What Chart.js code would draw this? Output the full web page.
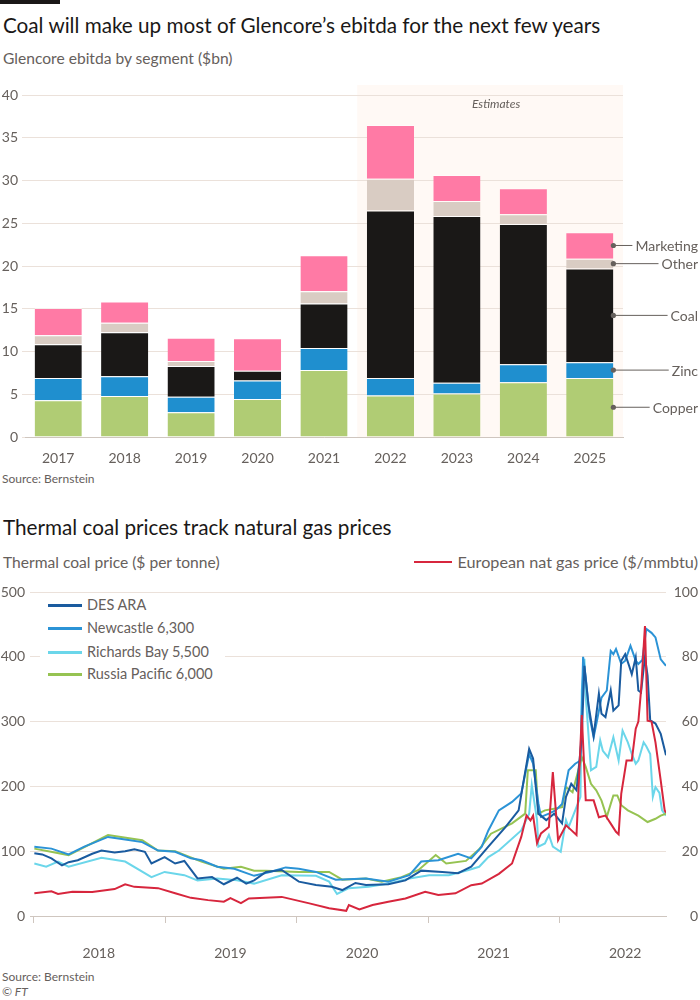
<!DOCTYPE html>
<html>
<head>
<meta charset="utf-8">
<script src="https://cdn.jsdelivr.net/npm/chart.js@4.4.1/dist/chart.umd.min.js"></script>
<style>
  body { margin: 0; background: #fff; font-family: Lato, "Noto Sans", sans-serif; }
  #page { position: relative; width: 700px; height: 1000px; overflow: hidden; background: #fff; }
  .abs { position: absolute; white-space: nowrap; }
  .title { font-size: 20.7px; line-height: 24px; color: #1a1817; left: 3px; }
  .sub { font-size: 15.6px; line-height: 18px; color: #66605c; }
  .src { font-size: 12px; line-height: 15px; color: #66605c; left: 2px; }
  #topbar { position: absolute; left: 0; top: 0; width: 60px; height: 4px; background: #1a1817; }
  #legend { position: absolute; left: 40px; top: 594px; width: 185px; height: 92px; background: #fff; }
  #gasKey { position: absolute; right: 2px; top: 553px; display: flex; align-items: center; }
  #gasKey .line { width: 38px; height: 2.5px; background: #d7263d; margin-right: 6px; }
  #gasKey .sub { font-size: 16.2px; }
  .row { position: absolute; left: 0; height: 20px; font-size: 14.5px; line-height: 20px; color: #66605c; }
  .sw { position: absolute; left: 8px; top: 9px; width: 34px; height: 2.5px; }
  .lab { position: absolute; left: 47px; top: 0; white-space: nowrap; }
  canvas { position: absolute; left: 0; }
</style>
</head>
<body>
<div id="page">
  <div id="topbar"></div>
  <div class="abs title" style="top:13px">Coal will make up most of Glencore’s ebitda for the next few years</div>
  <div class="abs sub" style="top:49px; left:3px">Glencore ebitda by segment ($bn)</div>
  <canvas id="ebitda" style="top:80px" width="700" height="390"></canvas>
  <div class="abs src" style="top:471px">Source: Bernstein</div>

  <div class="abs title" style="top:515px">Thermal coal prices track natural gas prices</div>
  <div class="abs sub" style="top:553px; left:3px">Thermal coal price ($ per tonne)</div>
  <div id="gasKey"><div class="line"></div><div class="sub" id="gasLabel"></div></div>
  <canvas id="prices" style="top:575px" width="700" height="385"></canvas>
  <div id="legend"></div>
  <div class="abs src" style="top:969px">Source: Bernstein</div>
  <div class="abs src" style="top:984px; font-style:italic">© FT</div>
</div>

<script>
// ---- top chart: Glencore ebitda by segment ($bn)
const years = ["2017", "2018", "2019", "2020", "2021", "2022", "2023", "2024", "2025"];
const copper = [4.3, 4.8, 2.9, 4.45, 7.85, 4.85, 5.1, 6.4, 6.9];
const zinc = [2.6, 2.3, 1.8, 2.15, 2.55, 2.05, 1.25, 2.1, 1.85];
const coal = [3.95, 5.15, 3.6, 1.15, 5.2, 19.6, 19.5, 16.4, 10.95];
const other = [1.05, 1.1, 0.6, 0, 1.45, 3.7, 1.75, 1.15, 1.15];
const marketing = [3.2, 2.5, 2.7, 3.8, 4.2, 6.3, 3.05, 3.05, 3.1];
const segmentNames = ["Copper", "Zinc", "Coal", "Other", "Marketing"];
const firstEstimate = "2022";

// ---- bottom chart: [decimal year, price]
const desAra = [[2018.01, 97], [2018.07, 95], [2018.14, 89], [2018.22, 78], [2018.27, 83], [2018.34, 86], [2018.45, 96], [2018.52, 101], [2018.62, 98], [2018.70, 100], [2018.77, 103], [2018.85, 99], [2018.90, 81], [2019.00, 91], [2019.08, 81], [2019.15, 85], [2019.25, 58], [2019.36, 60], [2019.45, 49], [2019.55, 59], [2019.62, 50], [2019.68, 55], [2019.77, 68], [2019.89, 71], [2020.02, 53], [2020.15, 48], [2020.27, 45], [2020.35, 40], [2020.45, 51], [2020.53, 48], [2020.70, 49], [2020.83, 55], [2020.95, 70], [2021.11, 68], [2021.23, 66], [2021.33, 76], [2021.46, 107], [2021.59, 137], [2021.69, 163], [2021.77, 258], [2021.80, 243], [2021.84, 158], [2021.90, 148], [2021.96, 158], [2022.02, 143], [2022.05, 184], [2022.09, 204], [2022.13, 194], [2022.17, 276], [2022.19, 386], [2022.22, 327], [2022.26, 278], [2022.30, 343], [2022.32, 312], [2022.35, 307], [2022.39, 348], [2022.41, 317], [2022.45, 325], [2022.47, 394], [2022.50, 404], [2022.53, 386], [2022.55, 373], [2022.58, 399], [2022.60, 348], [2022.62, 345], [2022.65, 400], [2022.67, 371], [2022.69, 302], [2022.73, 297], [2022.77, 281], [2022.81, 248]];
const newcastle = [[2018.01, 107], [2018.14, 104], [2018.27, 95], [2018.39, 107], [2018.57, 122], [2018.70, 118], [2018.83, 114], [2018.95, 101], [2019.08, 99], [2019.20, 89], [2019.28, 86], [2019.40, 76], [2019.53, 73], [2019.68, 62], [2019.80, 68], [2019.92, 75], [2020.02, 73], [2020.15, 68], [2020.30, 56], [2020.53, 58], [2020.70, 53], [2020.86, 63], [2020.95, 84], [2021.08, 86], [2021.23, 96], [2021.33, 89], [2021.41, 107], [2021.46, 132], [2021.54, 163], [2021.64, 176], [2021.71, 189], [2021.77, 250], [2021.80, 235], [2021.84, 174], [2021.86, 153], [2021.92, 158], [2021.97, 163], [2022.02, 173], [2022.07, 225], [2022.12, 235], [2022.16, 240], [2022.18, 400], [2022.20, 368], [2022.23, 307], [2022.26, 276], [2022.28, 296], [2022.32, 337], [2022.36, 348], [2022.39, 409], [2022.41, 404], [2022.43, 412], [2022.47, 389], [2022.50, 394], [2022.54, 417], [2022.58, 394], [2022.60, 389], [2022.63, 395], [2022.66, 443], [2022.70, 437], [2022.73, 430], [2022.77, 396], [2022.81, 386]];
const richardsBay = [[2018.01, 81], [2018.10, 76], [2018.19, 84], [2018.27, 76], [2018.52, 90], [2018.70, 84], [2018.90, 60], [2019.00, 68], [2019.15, 63], [2019.25, 55], [2019.40, 58], [2019.55, 55], [2019.68, 50], [2019.89, 63], [2020.15, 62], [2020.25, 53], [2020.31, 34], [2020.40, 43], [2020.55, 45], [2020.70, 50], [2020.86, 58], [2021.01, 63], [2021.16, 63], [2021.31, 71], [2021.39, 76], [2021.46, 91], [2021.54, 101], [2021.71, 132], [2021.77, 158], [2021.79, 202], [2021.83, 148], [2021.84, 107], [2021.89, 112], [2021.92, 125], [2021.95, 107], [2022.01, 99], [2022.05, 148], [2022.07, 137], [2022.12, 163], [2022.16, 184], [2022.17, 348], [2022.19, 397], [2022.20, 340], [2022.24, 225], [2022.28, 230], [2022.31, 271], [2022.33, 255], [2022.37, 245], [2022.41, 276], [2022.45, 240], [2022.48, 286], [2022.52, 268], [2022.55, 250], [2022.58, 235], [2022.60, 240], [2022.64, 268], [2022.66, 262], [2022.69, 250], [2022.71, 184], [2022.73, 199], [2022.76, 190], [2022.78, 163], [2022.81, 155]];
const russiaPacific = [[2018.01, 104], [2018.27, 94], [2018.57, 125], [2018.83, 117], [2018.95, 101], [2019.08, 100], [2019.28, 84], [2019.45, 73], [2019.58, 76], [2019.68, 70], [2019.77, 70], [2020.02, 68], [2020.25, 68], [2020.35, 56], [2020.53, 58], [2020.65, 53], [2020.80, 60], [2020.93, 71], [2021.06, 94], [2021.14, 81], [2021.29, 85], [2021.39, 103], [2021.48, 127], [2021.64, 143], [2021.74, 158], [2021.76, 225], [2021.82, 225], [2021.84, 158], [2021.89, 163], [2021.97, 166], [2022.02, 168], [2022.05, 199], [2022.10, 191], [2022.17, 245], [2022.20, 230], [2022.24, 204], [2022.28, 194], [2022.32, 178], [2022.36, 153], [2022.39, 173], [2022.41, 186], [2022.44, 186], [2022.47, 171], [2022.52, 163], [2022.60, 155], [2022.67, 145], [2022.73, 150], [2022.77, 155], [2022.81, 158]];
const gasPrice = [[2018.01, 7.0], [2018.14, 7.6], [2018.19, 6.8], [2018.30, 7.5], [2018.45, 7.4], [2018.62, 8.3], [2018.70, 9.8], [2018.77, 9.0], [2018.95, 8.6], [2019.08, 7.0], [2019.20, 5.6], [2019.33, 4.9], [2019.45, 4.4], [2019.50, 5.5], [2019.58, 4.0], [2019.64, 5.4], [2019.89, 5.9], [2020.10, 3.9], [2020.25, 2.4], [2020.38, 1.6], [2020.40, 3.4], [2020.48, 2.0], [2020.58, 3.4], [2020.70, 4.4], [2020.83, 5.4], [2020.98, 7.5], [2021.08, 6.5], [2021.21, 7.0], [2021.33, 9.5], [2021.41, 10], [2021.54, 13], [2021.64, 16.2], [2021.71, 24.4], [2021.75, 31], [2021.78, 29.5], [2021.80, 31], [2021.83, 22.5], [2021.86, 25.5], [2021.92, 27.5], [2021.95, 44.4], [2021.99, 23.4], [2022.05, 28], [2022.09, 26.5], [2022.13, 25], [2022.17, 62], [2022.20, 35.7], [2022.26, 35.7], [2022.30, 30.5], [2022.35, 31], [2022.39, 28.5], [2022.43, 26], [2022.45, 25.2], [2022.47, 37.8], [2022.51, 48], [2022.55, 48], [2022.58, 57.8], [2022.60, 60], [2022.62, 69.5], [2022.65, 89.5], [2022.67, 60.3], [2022.70, 60], [2022.73, 53.6], [2022.77, 41.8], [2022.80, 32.6], [2022.81, 31.9]];
const coalNames = ["DES ARA", "Newcastle 6,300", "Richards Bay 5,500", "Russia Pacific 6,000"];
const gasName = "European nat gas price ($/mmbtu)";
const yearLabels = [2018, 2019, 2020, 2021, 2022];

const grey = "#66605c";
const gridColour = "#ebe1da";
const axisColour = "#cfc6bf";

Chart.defaults.font.family = "Lato, 'Noto Sans', sans-serif";
Chart.defaults.font.size = 14;
Chart.defaults.color = grey;
Chart.defaults.animation = false;

// shaded "Estimates" region behind the forecast bars
const estimatesShade = {
    id: "estimatesShade",
    beforeDraw(chart) {
        let x = chart.scales.x;
        let area = chart.chartArea;
        let i = chart.data.labels.indexOf(firstEstimate);
        let left = (x.getPixelForValue(i - 1) + x.getPixelForValue(i)) / 2;
        let ctx = chart.ctx;
        ctx.save();
        ctx.fillStyle = "#fff9f5";
        ctx.fillRect(left, area.top - 10, area.right - left, area.bottom - area.top + 10);
        ctx.fillStyle = grey;
        ctx.font = "italic 12px Lato, sans-serif";
        ctx.textAlign = "center";
        ctx.textBaseline = "middle";
        ctx.fillText("Estimates", (left + area.right) / 2 + 6, area.top + 9);
        ctx.restore();
    }
};

// labels for each segment, pinned to the last bar
const segmentNotes = {
    id: "segmentNotes",
    afterDatasetsDraw(chart) {
        let ctx = chart.ctx;
        let last = chart.data.labels.length - 1;
        ctx.save();
        ctx.font = "14px Lato, sans-serif";
        ctx.textAlign = "right";
        ctx.textBaseline = "middle";
        chart.data.datasets.forEach((ds, i) => {
            let bar = chart.getDatasetMeta(i).data[last];
            let x = bar.x + bar.width / 2;
            let y = (bar.y + bar.base) / 2;
            let textRight = chart.width - 2;
            let textLeft = textRight - ctx.measureText(ds.label).width;
            ctx.strokeStyle = grey;
            ctx.lineWidth = 1;
            ctx.beginPath();
            ctx.moveTo(x, y);
            ctx.lineTo(textLeft - 3, y);
            ctx.stroke();
            ctx.fillStyle = grey;
            ctx.beginPath();
            ctx.arc(x, y, 2.6, 0, Math.PI * 2);
            ctx.fill();
            ctx.fillText(ds.label, textRight, y + 1);
        });
        ctx.restore();
    }
};

const segmentValues = [copper, zinc, coal, other, marketing];
const segmentColours = ["#b0cc74", "#1f8fcf", "#1a1817", "#d9ccc3", "#ff7aa5"];

new Chart(document.getElementById("ebitda").getContext("2d"), {
    type: "bar",
    data: {
        labels: years,
        datasets: segmentNames.map((name, i) => ({
            label: name,
            data: segmentValues[i],
            backgroundColor: segmentColours[i],
            borderColor: "rgba(255,255,255,0.5)",
            borderWidth: { top: 1 },
            borderSkipped: false,
            barPercentage: 0.71,
            categoryPercentage: 1
        }))
    },
    options: {
        responsive: false,
        layout: { padding: { top: 15, right: 77, bottom: 5, left: 0 } },
        plugins: { legend: { display: false }, tooltip: { enabled: false } },
        scales: {
            x: {
                stacked: true,
                grid: { display: false },
                border: { color: axisColour, width: 1 },
                ticks: { padding: 5, color: grey },
                afterFit: s => { s.height = 28; }
            },
            y: {
                stacked: true,
                min: 0,
                max: 40,
                ticks: { stepSize: 5, padding: 4, color: grey },
                grid: { color: gridColour, tickLength: 3 },
                border: { display: false },
                afterFit: s => { s.width = 25; }
            }
        }
    },
    plugins: [estimatesShade, segmentNotes]
});

// year boundary tick marks on the time axis
const yearTicks = {
    id: "yearTicks",
    afterDraw(chart) {
        let x = chart.scales.x;
        let bottom = chart.chartArea.bottom;
        let ctx = chart.ctx;
        ctx.save();
        ctx.strokeStyle = axisColour;
        ctx.lineWidth = 1;
        yearLabels.forEach(yr => {
            let px = Math.round(x.getPixelForValue(yr)) + 0.5;
            ctx.beginPath();
            ctx.moveTo(px, bottom);
            ctx.lineTo(px, bottom + 7);
            ctx.stroke();
        });
        ctx.restore();
    }
};

const toPoints = arr => arr.map(p => ({ x: p[0], y: p[1] }));
const coalSeries = [desAra, newcastle, richardsBay, russiaPacific];
const coalColours = ["#1a5b9f", "#2b93d6", "#6bd6ea", "#96c352"];
const drawOrder = [2, 3, 5, 4];

let lineDatasets = coalSeries.map((s, i) => ({
    label: coalNames[i],
    data: toPoints(s),
    borderColor: coalColours[i],
    borderWidth: 2,
    pointRadius: 0,
    tension: 0,
    yAxisID: "y",
    order: drawOrder[i]
}));
lineDatasets.push({
    label: gasName,
    data: toPoints(gasPrice),
    borderColor: "#d7263d",
    borderWidth: 2,
    pointRadius: 0,
    tension: 0,
    yAxisID: "y1",
    order: 1
});

new Chart(document.getElementById("prices").getContext("2d"), {
    type: "line",
    data: { datasets: lineDatasets },
    options: {
        responsive: false,
        layout: { padding: { top: 17, right: 2, bottom: 0, left: 0 } },
        plugins: { legend: { display: false }, tooltip: { enabled: false } },
        scales: {
            x: {
                type: "linear",
                min: 2017.977,
                max: 2022.81,
                afterBuildTicks: s => { s.ticks = yearLabels.map(v => ({ value: v + 0.5 })); },
                ticks: { callback: v => Math.floor(v), padding: 21, color: grey, maxRotation: 0 },
                grid: { display: false },
                border: { color: axisColour, width: 1 },
                afterFit: s => { s.height = 44; }
            },
            y: {
                position: "left",
                min: 0,
                max: 500,
                ticks: { stepSize: 100, padding: 5, color: grey },
                grid: { color: gridColour, drawTicks: false },
                border: { display: false },
                afterFit: s => { s.width = 30; }
            },
            y1: {
                position: "right",
                min: 0,
                max: 100,
                ticks: { stepSize: 20, padding: 6, color: grey, crossAlign: "far" },
                grid: { display: false, drawTicks: false },
                border: { display: false },
                afterFit: s => { s.width = 32; }
            }
        }
    },
    plugins: [yearTicks]
});

document.getElementById("gasLabel").textContent = gasName;

// legend for the coal series, over the top-left of the plot
let legend = document.getElementById("legend");
let rowTops = [1, 24, 48, 70];
coalNames.forEach((name, i) => {
    let row = document.createElement("div");
    row.className = "row";
    row.style.top = rowTops[i] + "px";
    row.innerHTML = '<div class="sw" style="background:' + coalColours[i] + '"></div><span class="lab">' + name + "</span>";
    legend.appendChild(row);
});
</script>
</body>
</html>
